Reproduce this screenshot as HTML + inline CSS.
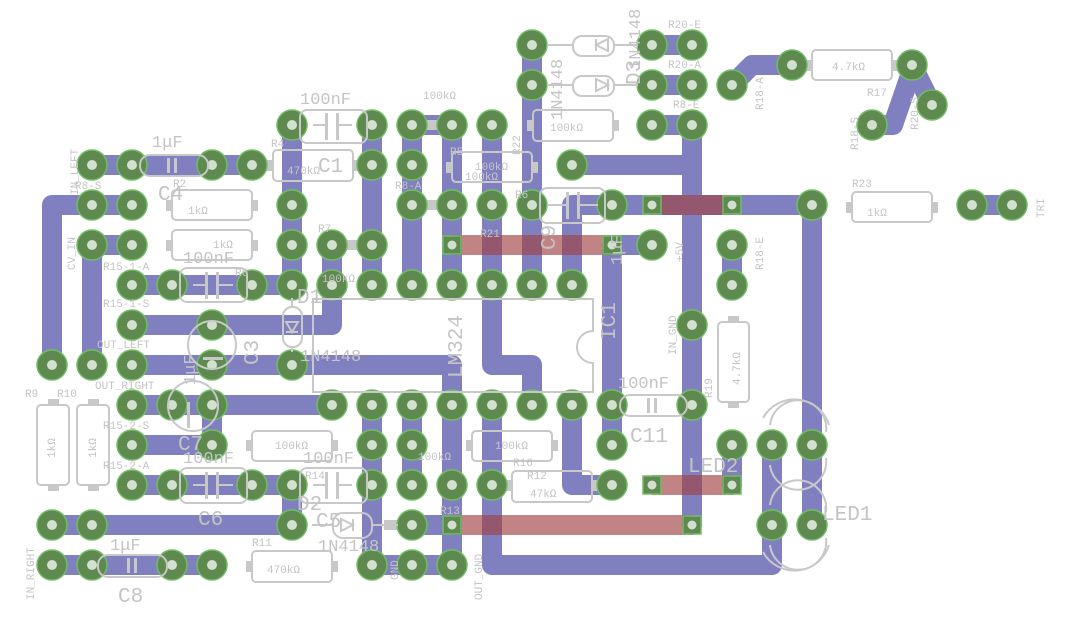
<!DOCTYPE html>
<html><head><meta charset="utf-8"><style>
html,body{margin:0;padding:0;background:#fff;}
svg{display:block;}
text{font-family:"Liberation Mono","DejaVu Sans Mono",monospace;fill:#c4c4c4;}
</style></head><body>
<svg width="1066" height="617" viewBox="0 0 1066 617" xmlns="http://www.w3.org/2000/svg">
<rect width="1066" height="617" fill="#fff"/>
<g fill="none" stroke="#8080c0" stroke-width="20" stroke-linejoin="round" stroke-linecap="round">
<path d="M92 165H252"/>
<path d="M52 365V205H132"/>
<path d="M92 365V245H132"/>
<path d="M132 285H292"/>
<path d="M132 325H332V245"/>
<path d="M292 125V285"/>
<path d="M372 125V285"/>
<path d="M132 365H452V565"/>
<path d="M132 405H332"/>
<path d="M212 405V445H132"/>
<path d="M412 285V125H452V285"/>
<path d="M492 125V365H532V405"/>
<path d="M532 45V285"/>
<path d="M572 285V205H812V525"/>
<path d="M652 245H612V445"/>
<path d="M692 125V525"/>
<path d="M572 165H692"/>
<path d="M652 125H692"/>
<path d="M652 45H692"/>
<path d="M652 85H692"/>
<path d="M732 85L752 65H792"/>
<path d="M872 125H893L912 70"/>
<path d="M912 65L932 105"/>
<path d="M972 205H1012"/>
<path d="M732 245V285"/>
<path d="M732 445V485"/>
<path d="M492 405V565H772V445"/>
<path d="M572 405V485H612"/>
<path d="M132 485H292V525H52"/>
<path d="M52 565H212"/>
<path d="M372 405V565H452"/>
<path d="M412 405V485"/>
<path d="M412 525H452"/>
</g>
<g stroke="#a04040" stroke-opacity="0.65" stroke-width="20" fill="none">
<path d="M452 245H612"/>
<path d="M652 205H732"/>
<path d="M652 485H732"/>
<path d="M452 525H692"/>
</g>
<!-- resistor lead stubs -->
<g fill="#c8c8c8">
<rect x="266" y="160" width="7" height="11"/><rect x="353" y="160" width="7" height="11"/>
<rect x="166" y="200" width="6" height="11"/><rect x="252" y="200" width="6" height="11"/>
<rect x="166" y="240" width="6" height="11"/><rect x="252" y="240" width="6" height="11"/>
<rect x="446" y="162" width="6" height="11"/><rect x="532" y="162" width="6" height="11"/>
<rect x="527" y="120" width="6" height="11"/><rect x="613" y="120" width="6" height="11"/>
<rect x="806" y="60" width="6" height="11"/><rect x="892" y="60" width="6" height="11"/>
<rect x="846" y="202" width="6" height="11"/><rect x="932" y="202" width="6" height="11"/>
<rect x="246" y="440" width="6" height="11"/><rect x="332" y="440" width="6" height="11"/>
<rect x="246" y="561" width="6" height="11"/><rect x="332" y="561" width="6" height="11"/>
<rect x="466" y="440" width="6" height="11"/><rect x="552" y="440" width="6" height="11"/>
<rect x="506" y="480" width="6" height="11"/><rect x="592" y="480" width="6" height="11"/>
<rect x="48" y="399" width="11" height="6"/><rect x="48" y="485" width="11" height="6"/>
<rect x="88" y="399" width="11" height="6"/><rect x="88" y="485" width="11" height="6"/>
<rect x="728" y="316" width="11" height="6"/><rect x="728" y="402" width="11" height="6"/>
<rect x="344" y="240" width="16" height="10"/><rect x="424" y="120" width="16" height="10"/><rect x="424" y="200" width="16" height="10"/>
<rect x="384" y="520" width="16" height="10"/>
</g>
<g fill="#5e8a50" stroke="#72bc66" stroke-width="1.5">
<circle cx="532" cy="45" r="15"/><circle cx="652" cy="45" r="15"/><circle cx="692" cy="45" r="15"/>
<circle cx="532" cy="85" r="15"/><circle cx="652" cy="85" r="15"/><circle cx="692" cy="85" r="15"/><circle cx="732" cy="85" r="15"/>
<circle cx="792" cy="65" r="15"/><circle cx="912" cy="65" r="15"/><circle cx="932" cy="105" r="15"/><circle cx="872" cy="125" r="15"/>
<circle cx="292" cy="125" r="15"/><circle cx="372" cy="125" r="15"/><circle cx="412" cy="125" r="15"/><circle cx="452" cy="125" r="15"/><circle cx="492" cy="125" r="15"/><circle cx="652" cy="125" r="15"/><circle cx="692" cy="125" r="15"/>
<circle cx="92" cy="165" r="15"/><circle cx="132" cy="165" r="15"/><circle cx="212" cy="165" r="15"/><circle cx="252" cy="165" r="15"/><circle cx="372" cy="165" r="15"/><circle cx="412" cy="165" r="15"/><circle cx="572" cy="165" r="15"/>
<circle cx="92" cy="205" r="15"/><circle cx="132" cy="205" r="15"/><circle cx="292" cy="205" r="15"/><circle cx="412" cy="205" r="15"/><circle cx="452" cy="205" r="15"/><circle cx="492" cy="205" r="15"/><circle cx="532" cy="205" r="15"/><circle cx="612" cy="205" r="15"/><circle cx="812" cy="205" r="15"/><circle cx="972" cy="205" r="15"/><circle cx="1012" cy="205" r="15"/>
<circle cx="92" cy="245" r="15"/><circle cx="132" cy="245" r="15"/><circle cx="292" cy="245" r="15"/><circle cx="332" cy="245" r="15"/><circle cx="372" cy="245" r="15"/><circle cx="652" cy="245" r="15"/><circle cx="732" cy="245" r="15"/>
<circle cx="132" cy="285" r="15"/><circle cx="172" cy="285" r="15"/><circle cx="252" cy="285" r="15"/><circle cx="292" cy="285" r="15"/><circle cx="332" cy="285" r="15"/><circle cx="372" cy="285" r="15"/><circle cx="412" cy="285" r="15"/><circle cx="452" cy="285" r="15"/><circle cx="492" cy="285" r="15"/><circle cx="532" cy="285" r="15"/><circle cx="572" cy="285" r="15"/><circle cx="732" cy="285" r="15"/>
<circle cx="132" cy="325" r="15"/><circle cx="212" cy="325" r="15"/><circle cx="692" cy="325" r="15"/>
<circle cx="52" cy="365" r="15"/><circle cx="92" cy="365" r="15"/><circle cx="132" cy="365" r="15"/><circle cx="212" cy="365" r="15"/><circle cx="292" cy="365" r="15"/>
<circle cx="132" cy="405" r="15"/><circle cx="172" cy="405" r="15"/><circle cx="212" cy="405" r="15"/><circle cx="332" cy="405" r="15"/><circle cx="372" cy="405" r="15"/><circle cx="412" cy="405" r="15"/><circle cx="452" cy="405" r="15"/><circle cx="492" cy="405" r="15"/><circle cx="532" cy="405" r="15"/><circle cx="572" cy="405" r="15"/><circle cx="612" cy="405" r="15"/><circle cx="692" cy="405" r="15"/>
<circle cx="132" cy="445" r="15"/><circle cx="212" cy="445" r="15"/><circle cx="372" cy="445" r="15"/><circle cx="412" cy="445" r="15"/><circle cx="612" cy="445" r="15"/><circle cx="732" cy="445" r="15"/><circle cx="772" cy="445" r="15"/><circle cx="812" cy="445" r="15"/>
<circle cx="132" cy="485" r="15"/><circle cx="172" cy="485" r="15"/><circle cx="252" cy="485" r="15"/><circle cx="292" cy="485" r="15"/><circle cx="372" cy="485" r="15"/><circle cx="412" cy="485" r="15"/><circle cx="452" cy="485" r="15"/><circle cx="492" cy="485" r="15"/><circle cx="612" cy="485" r="15"/>
<circle cx="52" cy="525" r="15"/><circle cx="92" cy="525" r="15"/><circle cx="292" cy="525" r="15"/><circle cx="412" cy="525" r="15"/><circle cx="772" cy="525" r="15"/><circle cx="812" cy="525" r="15"/>
<circle cx="52" cy="565" r="15"/><circle cx="92" cy="565" r="15"/><circle cx="172" cy="565" r="15"/><circle cx="212" cy="565" r="15"/><circle cx="372" cy="565" r="15"/><circle cx="412" cy="565" r="15"/><circle cx="452" cy="565" r="15"/>
<rect x="643" y="196" width="18" height="18"/><rect x="723" y="196" width="18" height="18"/>
<rect x="443" y="236" width="18" height="18"/><rect x="603" y="236" width="18" height="18"/>
<rect x="643" y="476" width="18" height="18"/><rect x="723" y="476" width="18" height="18"/>
<rect x="443" y="516" width="18" height="18"/><rect x="683" y="516" width="18" height="18"/>
</g>
<g fill="#d3dfcf">
<circle cx="532" cy="45" r="5"/><circle cx="652" cy="45" r="5"/><circle cx="692" cy="45" r="5"/>
<circle cx="532" cy="85" r="5"/><circle cx="652" cy="85" r="5"/><circle cx="692" cy="85" r="5"/><circle cx="732" cy="85" r="5"/>
<circle cx="792" cy="65" r="5"/><circle cx="912" cy="65" r="5"/><circle cx="932" cy="105" r="5"/><circle cx="872" cy="125" r="5"/>
<circle cx="292" cy="125" r="5"/><circle cx="372" cy="125" r="5"/><circle cx="412" cy="125" r="5"/><circle cx="452" cy="125" r="5"/><circle cx="492" cy="125" r="5"/><circle cx="652" cy="125" r="5"/><circle cx="692" cy="125" r="5"/>
<circle cx="92" cy="165" r="5"/><circle cx="132" cy="165" r="5"/><circle cx="212" cy="165" r="5"/><circle cx="252" cy="165" r="5"/><circle cx="372" cy="165" r="5"/><circle cx="412" cy="165" r="5"/><circle cx="572" cy="165" r="5"/>
<circle cx="92" cy="205" r="5"/><circle cx="132" cy="205" r="5"/><circle cx="292" cy="205" r="5"/><circle cx="412" cy="205" r="5"/><circle cx="452" cy="205" r="5"/><circle cx="492" cy="205" r="5"/><circle cx="532" cy="205" r="5"/><circle cx="612" cy="205" r="5"/><circle cx="812" cy="205" r="5"/><circle cx="972" cy="205" r="5"/><circle cx="1012" cy="205" r="5"/>
<circle cx="92" cy="245" r="5"/><circle cx="132" cy="245" r="5"/><circle cx="292" cy="245" r="5"/><circle cx="332" cy="245" r="5"/><circle cx="372" cy="245" r="5"/><circle cx="652" cy="245" r="5"/><circle cx="732" cy="245" r="5"/>
<circle cx="132" cy="285" r="5"/><circle cx="172" cy="285" r="5"/><circle cx="252" cy="285" r="5"/><circle cx="292" cy="285" r="5"/><circle cx="332" cy="285" r="5"/><circle cx="372" cy="285" r="5"/><circle cx="412" cy="285" r="5"/><circle cx="452" cy="285" r="5"/><circle cx="492" cy="285" r="5"/><circle cx="532" cy="285" r="5"/><circle cx="572" cy="285" r="5"/><circle cx="732" cy="285" r="5"/>
<circle cx="132" cy="325" r="5"/><circle cx="212" cy="325" r="5"/><circle cx="692" cy="325" r="5"/>
<circle cx="52" cy="365" r="5"/><circle cx="92" cy="365" r="5"/><circle cx="132" cy="365" r="5"/><circle cx="212" cy="365" r="5"/><circle cx="292" cy="365" r="5"/>
<circle cx="132" cy="405" r="5"/><circle cx="172" cy="405" r="5"/><circle cx="212" cy="405" r="5"/><circle cx="332" cy="405" r="5"/><circle cx="372" cy="405" r="5"/><circle cx="412" cy="405" r="5"/><circle cx="452" cy="405" r="5"/><circle cx="492" cy="405" r="5"/><circle cx="532" cy="405" r="5"/><circle cx="572" cy="405" r="5"/><circle cx="612" cy="405" r="5"/><circle cx="692" cy="405" r="5"/>
<circle cx="132" cy="445" r="5"/><circle cx="212" cy="445" r="5"/><circle cx="372" cy="445" r="5"/><circle cx="412" cy="445" r="5"/><circle cx="612" cy="445" r="5"/><circle cx="732" cy="445" r="5"/><circle cx="772" cy="445" r="5"/><circle cx="812" cy="445" r="5"/>
<circle cx="132" cy="485" r="5"/><circle cx="172" cy="485" r="5"/><circle cx="252" cy="485" r="5"/><circle cx="292" cy="485" r="5"/><circle cx="372" cy="485" r="5"/><circle cx="412" cy="485" r="5"/><circle cx="452" cy="485" r="5"/><circle cx="492" cy="485" r="5"/><circle cx="612" cy="485" r="5"/>
<circle cx="52" cy="525" r="5"/><circle cx="92" cy="525" r="5"/><circle cx="292" cy="525" r="5"/><circle cx="412" cy="525" r="5"/><circle cx="772" cy="525" r="5"/><circle cx="812" cy="525" r="5"/>
<circle cx="52" cy="565" r="5"/><circle cx="92" cy="565" r="5"/><circle cx="172" cy="565" r="5"/><circle cx="212" cy="565" r="5"/><circle cx="372" cy="565" r="5"/><circle cx="412" cy="565" r="5"/><circle cx="452" cy="565" r="5"/>
<circle cx="652" cy="205" r="4.5"/><circle cx="732" cy="205" r="4.5"/><circle cx="452" cy="245" r="4.5"/><circle cx="612" cy="245" r="4.5"/>
<circle cx="652" cy="485" r="4.5"/><circle cx="732" cy="485" r="4.5"/><circle cx="452" cy="525" r="4.5"/><circle cx="692" cy="525" r="4.5"/>
</g>
<g fill="none" stroke="#c8c8c8" stroke-width="2">
<path d="M313 299H593V331A16 16 0 0 0 593 363V392H313Z"/>
<rect x="140" y="155" width="68" height="21" rx="10"/>
<rect x="300" y="110" width="67" height="33" rx="7"/>
<rect x="180" y="268" width="67" height="34" rx="7"/>
<rect x="180" y="468" width="67" height="35" rx="7"/>
<rect x="300" y="468" width="67" height="35" rx="7"/>
<rect x="98" y="555" width="69" height="22" rx="10"/>
<rect x="540" y="188" width="65" height="35" rx="7"/>
<rect x="620" y="395" width="67" height="21" rx="10"/>
<rect x="273" y="150" width="80" height="31" rx="4"/>
<rect x="172" y="190" width="80" height="30" rx="4"/>
<rect x="172" y="230" width="80" height="30" rx="4"/>
<rect x="452" y="152" width="80" height="30" rx="4"/>
<rect x="533" y="110" width="80" height="31" rx="4"/>
<rect x="812" y="50" width="80" height="30" rx="4"/>
<rect x="852" y="192" width="80" height="30" rx="4"/>
<rect x="252" y="431" width="80" height="30" rx="4"/>
<rect x="252" y="551" width="80" height="31" rx="4"/>
<rect x="472" y="431" width="80" height="30" rx="4"/>
<rect x="512" y="471" width="80" height="31" rx="4"/>
<rect x="37" y="405" width="32" height="80" rx="4"/>
<rect x="77" y="405" width="32" height="80" rx="4"/>
<rect x="718" y="322" width="31" height="80" rx="4"/>
<circle cx="212" cy="345" r="24"/>
<circle cx="193" cy="406" r="25"/>
<rect x="283" y="307" width="19" height="40" rx="9"/>
<rect x="333" y="513" width="39" height="25" rx="10"/>
<rect x="573" y="36" width="41" height="20" rx="9"/>
<rect x="573" y="76" width="41" height="20" rx="9"/>
<path d="M292 298V307M292 347V352M312 525H333M372 525H398M547 45H573M614 45H638M547 85H573M614 85H638"/>
<path d="M286 322H298L292 332ZM286 332H298"/>
<path d="M341 519V531L353 525ZM353 519V531"/>
<path d="M608 39V51L596 45ZM596 39V51"/>
<path d="M596 79V91L608 85ZM608 79V91"/>
<path d="M770 425A28 28 0 0 1 826 432M770 465A28 28 0 0 0 826 458M763 418A36 36 0 0 1 829 425"/>
<path d="M770 505A28 28 0 0 1 826 512M770 545A28 28 0 0 0 826 538M763 552A36 36 0 0 0 829 545"/>
</g>
<g fill="#c8c8c8">
<rect x="167" y="158" width="3" height="15"/><rect x="174" y="158" width="3" height="15"/>
<rect x="127" y="558" width="3" height="15"/><rect x="134" y="558" width="3" height="15"/>
<rect x="647" y="398" width="3" height="15"/><rect x="654" y="398" width="3" height="15"/>
<rect x="325" y="113" width="3" height="27"/><rect x="336" y="113" width="3" height="27"/>
<rect x="205" y="272" width="3" height="27"/><rect x="216" y="272" width="3" height="27"/>
<rect x="205" y="472" width="3" height="27"/><rect x="216" y="472" width="3" height="27"/>
<rect x="325" y="472" width="3" height="27"/><rect x="336" y="472" width="3" height="27"/>
<rect x="566" y="192" width="3" height="27"/><rect x="577" y="192" width="3" height="27"/>
<rect x="187" y="402" width="3" height="26"/>
<rect x="203" y="357" width="20" height="3"/>
</g>
<g stroke="#c8c8c8" stroke-width="2">
<path d="M313 125H325M339 125H352M193 285H205M219 285H233M193 485H205M219 485H233M313 485H325M339 485H352M547 205H566M580 205H598"/>
</g>
<g font-size="11">
<text x="271" y="147">R4</text><text x="287" y="174">470kΩ</text>
<text x="173" y="187">R2</text><text x="188" y="214">1kΩ</text>
<text x="213" y="248">1kΩ</text>
<text x="235" y="276">R6</text>
<text x="318" y="232">R7</text><text x="322" y="282">100kΩ</text>
<text x="423" y="99">100kΩ</text>
<text x="450" y="155">R5</text><text x="475" y="170">100kΩ</text><text x="465" y="180">100kΩ</text>
<text x="395" y="189">R8-A</text>
<text x="515" y="198">R6</text>
<text x="480" y="237">R21</text>
<text x="550" y="131">100kΩ</text>
<text x="668" y="28">R20-E</text><text x="668" y="68">R20-A</text><text x="673" y="108">R8-E</text>
<text x="867" y="96">R17</text><text x="832" y="70">4.7kΩ</text>
<text x="852" y="187">R23</text><text x="867" y="216">1kΩ</text>
<text x="75" y="189">R8-S</text>
<text x="103" y="270">R15-1-A</text><text x="103" y="307">R15-1-S</text>
<text x="97" y="348">OUT_LEFT</text><text x="95" y="389">OUT_RIGHT</text>
<text x="103" y="429">R15-2-S</text><text x="103" y="469">R15-2-A</text>
<text x="25" y="397">R9</text><text x="57" y="397">R10</text>
<text x="275" y="449">100kΩ</text>
<text x="305" y="479">R14</text>
<text x="252" y="546">R11</text><text x="267" y="573">470kΩ</text>
<text x="418" y="460">100kΩ</text>
<text x="495" y="449">100kΩ</text>
<text x="513" y="466">R16</text><text x="527" y="479">R12</text><text x="530" y="497">47kΩ</text>
<text x="440" y="514">R13</text>
<text transform="translate(78 195) rotate(-90)">IN_LEFT</text>
<text transform="translate(75 270) rotate(-90)">CV_IN</text>
<text transform="translate(34 600) rotate(-90)">IN_RIGHT</text>
<text transform="translate(398 580) rotate(-90)">GND</text>
<text transform="translate(482 600) rotate(-90)">OUT_GND</text>
<text transform="translate(55 458) rotate(-90)">1kΩ</text>
<text transform="translate(96 458) rotate(-90)">1kΩ</text>
<text transform="translate(740 385) rotate(-90)">4.7kΩ</text>
<text transform="translate(712 398) rotate(-90)">R19</text>
<text transform="translate(676 355) rotate(-90)">IN_GND</text>
<text transform="translate(683 262) rotate(-90)">+5V</text>
<text transform="translate(763 270) rotate(-90)">R18-E</text>
<text transform="translate(763 110) rotate(-90)">R18-A</text>
<text transform="translate(858 150) rotate(-90)">R18-S</text>
<text transform="translate(918 130) rotate(-90)">R20-S</text>
<text transform="translate(1044 218) rotate(-90)">TRI</text>
<text transform="translate(520 155) rotate(-90)">R22</text>
</g>
<g font-size="17">
<text x="300" y="104">100nF</text>
<text x="152" y="147">1μF</text>
<text x="183" y="263">100nF</text>
<text x="183" y="463">100nF</text>
<text x="303" y="463">100nF</text>
<text x="110" y="550">1μF</text>
<text x="618" y="388">100nF</text>
<text x="300" y="361">1N4148</text>
<text x="318" y="551">1N4148</text>
<text transform="translate(562 120) rotate(-90)">1N4148</text>
<text transform="translate(640 70) rotate(-90)">1N4148</text>
<text transform="translate(195 385) rotate(-90)">1μF</text>
<text transform="translate(622 265) rotate(-90)">1μF</text>
</g>
<g font-size="21">
<text x="158" y="200">C4</text>
<text x="318" y="172">C1</text>
<text x="198" y="525">C6</text>
<text x="316" y="527">C5</text>
<text x="118" y="602">C8</text>
<text x="630" y="442">C11</text>
<text x="178" y="450">C7</text>
<text x="297" y="303">D1</text>
<text x="297" y="510">D2</text>
<text x="688" y="472">LED2</text>
<text x="822" y="520">LED1</text>
<text transform="translate(258 365) rotate(-90)">C3</text>
<text transform="translate(555 250) rotate(-90)">C9</text>
<text transform="translate(462 378) rotate(-90)">LM324</text>
<text transform="translate(615 340) rotate(-90)">IC1</text>
<text transform="translate(640 85) rotate(-90)">D3</text>
</g>
</svg>
</body></html>
